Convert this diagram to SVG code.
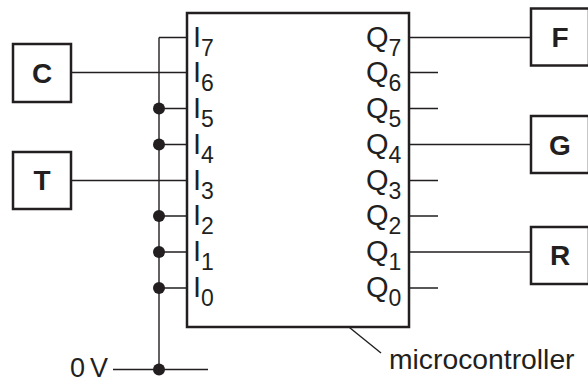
<svg xmlns="http://www.w3.org/2000/svg" width="588" height="383" viewBox="0 0 588 383">
<style>
.box{fill:#fff;stroke:#231f20;stroke-width:2.5}
.w{stroke:#231f20;stroke-width:1.4;fill:none}
.t{font-family:"Liberation Sans",Arial,sans-serif;font-size:29px;fill:#231f20}
.s{font-size:23px}
.b{font-family:"Liberation Sans",Arial,sans-serif;font-size:28px;font-weight:bold;fill:#231f20;text-anchor:middle}
.dot{fill:#231f20}
</style>
<g id="connectors">
<path class="w" d="M159,37.5H187M72,72.5H187M159,108.5H187M159,144.5H187M72,180.5H187M159,216H187M159,252H187M159,288H187"/>
<path class="w" d="M159,37.5V369.5M113,369.5H208"/>
<path class="w" d="M409,37.5H531M409,72.5H438M409,108.5H438M409,144.5H531M409,180.5H438M409,216H438M409,252H531M409,288H438"/>
<path class="w" d="M334,315L381,353"/>
<circle class="dot" cx="159" cy="108.5" r="6"/>
<circle class="dot" cx="159" cy="144.5" r="6"/>
<circle class="dot" cx="159" cy="216" r="6"/>
<circle class="dot" cx="159" cy="252" r="6"/>
<circle class="dot" cx="159" cy="288" r="6"/>
<circle class="dot" cx="159" cy="369.5" r="6"/>
</g>
<g id="microcontroller">
<rect class="box" x="187" y="13" width="222" height="314"/>
<text class="t" x="193" y="46.5">I<tspan class="s" dy="9">7</tspan></text>
<text class="t" x="193" y="81.5">I<tspan class="s" dy="9">6</tspan></text>
<text class="t" x="193" y="117.5">I<tspan class="s" dy="9">5</tspan></text>
<text class="t" x="193" y="153.5">I<tspan class="s" dy="9">4</tspan></text>
<text class="t" x="193" y="189.5">I<tspan class="s" dy="9">3</tspan></text>
<text class="t" x="193" y="225">I<tspan class="s" dy="9">2</tspan></text>
<text class="t" x="193" y="261">I<tspan class="s" dy="9">1</tspan></text>
<text class="t" x="193" y="297">I<tspan class="s" dy="9">0</tspan></text>
<text class="t" x="366" y="46.5">Q<tspan class="s" dy="9">7</tspan></text>
<text class="t" x="366" y="81.5">Q<tspan class="s" dy="9">6</tspan></text>
<text class="t" x="366" y="117.5">Q<tspan class="s" dy="9">5</tspan></text>
<text class="t" x="366" y="153.5">Q<tspan class="s" dy="9">4</tspan></text>
<text class="t" x="366" y="189.5">Q<tspan class="s" dy="9">3</tspan></text>
<text class="t" x="366" y="225">Q<tspan class="s" dy="9">2</tspan></text>
<text class="t" x="366" y="261">Q<tspan class="s" dy="9">1</tspan></text>
<text class="t" x="366" y="297">Q<tspan class="s" dy="9">0</tspan></text>
</g>
<g id="label-microcontroller"><text class="t" x="389" y="369" style="font-size:28.3px">microcontroller</text></g>
<g id="label-0V"><text class="t" x="70" y="377" style="font-size:27px">0<tspan dx="5">V</tspan></text></g>
<g id="C"><rect class="box" x="13" y="44" width="58" height="58"/><text class="b" x="42" y="83">C</text></g>
<g id="T"><rect class="box" x="13" y="152" width="58" height="57"/><text class="b" x="42" y="190">T</text></g>
<g id="F"><rect class="box" x="531" y="8.5" width="58" height="57"/><text class="b" x="560" y="47">F</text></g>
<g id="G"><rect class="box" x="531" y="116" width="58" height="57"/><text class="b" x="560" y="154.5">G</text></g>
<g id="R"><rect class="box" x="531" y="227" width="58" height="57"/><text class="b" x="560" y="265">R</text></g>
</svg>
